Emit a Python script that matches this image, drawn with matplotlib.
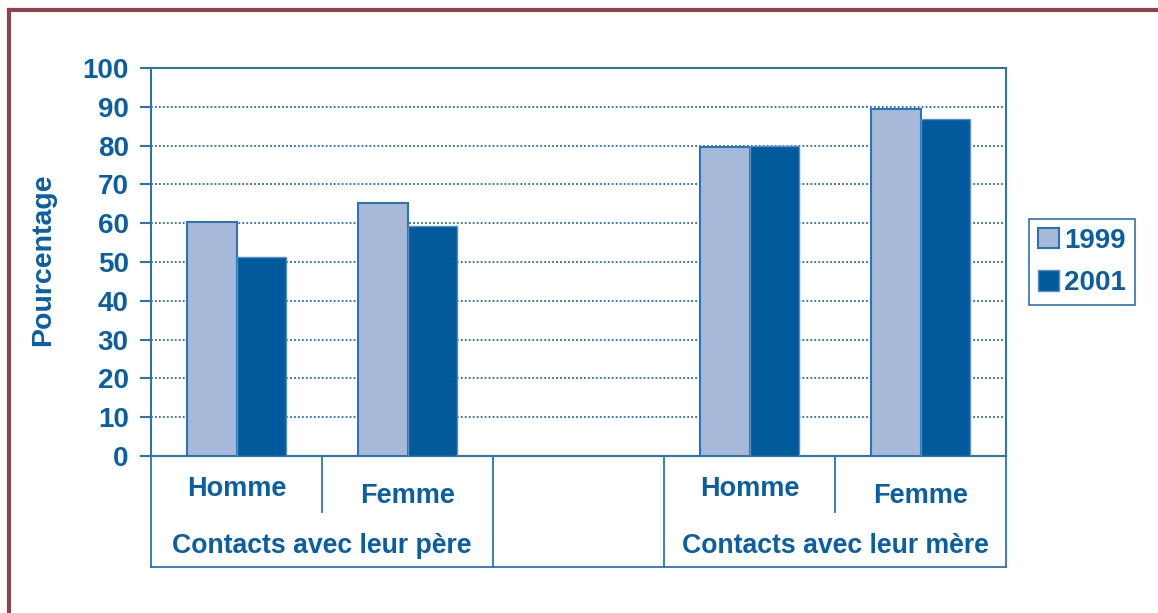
import matplotlib
matplotlib.use("Agg")
import matplotlib.pyplot as plt
from matplotlib.lines import Line2D
from matplotlib.transforms import blended_transform_factory
import numpy as np

# data
sub_labels = ["Homme", "Femme", "", "Homme", "Femme"]
group_labels = ["Contacts avec leur père", "Contacts avec leur mère"]
values_1999 = [60.4, 65.1, np.nan, 79.6, 89.4]
values_2001 = [51.4, 59.2, np.nan, 79.9, 86.9]
series_names = ["1999", "2001"]
y_ticks = list(range(0, 101, 10))

TXT = "#0b5ea1"
LIGHT = "#a7b9d8"
DARK = "#005a9c"
EDGE = "#2f72b2"
FRAME = "#8b434d"

plt.rcParams["font.family"] = ["Liberation Sans", "DejaVu Sans"]
plt.rcParams["font.weight"] = "bold"

W, H = 1158, 613
fig = plt.figure(figsize=(W / 100, H / 100), dpi=100)
ax = fig.add_axes([151 / W, (H - 456) / H, 855 / W, 388 / H])

x = np.arange(len(sub_labels))
bw = 0.292
b1 = ax.bar(x - bw / 2, values_1999, bw, color=LIGHT, edgecolor=EDGE, linewidth=1.5,
            label=series_names[0], zorder=3)
b2 = ax.bar(x + bw / 2, values_2001, bw, color=DARK, edgecolor="#5b8fc4", linewidth=1.0,
            label=series_names[1], zorder=3)

ax.set_xlim(-0.5, len(sub_labels) - 0.5)
ax.set_ylim(0, 100)
ax.set_yticks(y_ticks)
ax.set_yticklabels([str(t) for t in y_ticks])
ax.set_xticks([])
ax.tick_params(axis="y", length=8, width=1.5, color=EDGE, labelsize=20,
               labelcolor=TXT, pad=8)
for lbl in ax.get_yticklabels():
    lbl.set_fontweight("bold")

for t in y_ticks[1:-1]:
    ax.axhline(t, color="#2a6aa8", linestyle=(0, (1, 1.2)), linewidth=1.3, zorder=1)

for s in ax.spines.values():
    s.set_color(EDGE)
    s.set_linewidth(1.5)

ax.set_ylabel("Pourcentage", fontsize=20.5, fontweight="bold", color=TXT)
ax.yaxis.set_label_coords(-0.111, 0.505)

# category table below the axis
tr = blended_transform_factory(ax.transData, ax.transAxes)
y_bot = -0.286
y_mid = -0.144
lkw = dict(color=EDGE, linewidth=1.3, transform=tr, clip_on=False)
ax.add_line(Line2D([-0.5, 4.5], [y_bot, y_bot], **lkw))
for xb in [-0.5, 2.5, 1.5, 4.5]:
    ax.add_line(Line2D([xb, xb], [0, y_bot], **lkw))
for xb in [0.5, 3.5]:
    ax.add_line(Line2D([xb, xb], [0, y_mid], **lkw))

for i, lab in enumerate(sub_labels):
    if not lab:
        continue
    yy = -0.085 if lab == "Homme" else -0.103
    ax.text(i, yy, lab, transform=tr, ha="center", va="center", fontsize=19.5,
            fontweight="bold", color=TXT)
ax.text(0.5, -0.232, group_labels[0], transform=tr, ha="center", va="center",
        fontsize=19.2, fontweight="bold", color=TXT)
ax.text(3.5, -0.232, group_labels[1], transform=tr, ha="center", va="center",
        fontsize=19.2, fontweight="bold", color=TXT)

leg = fig.legend(handles=[b1, b2], labels=series_names, loc="center left",
                 bbox_to_anchor=(1029 / W, 1 - 262 / H), bbox_transform=fig.transFigure,
                 fancybox=False, framealpha=1, edgecolor=EDGE,
                 prop={"size": 20, "weight": "bold"},
                 handlelength=0.75, handleheight=0.75, handletextpad=0.2,
                 labelspacing=0.6, borderpad=0.32, borderaxespad=0)
for t in leg.get_texts():
    t.set_color(TXT)
leg.get_frame().set_linewidth(1.2)

# maroon page frame (top and left edges)
fig.add_artist(Line2D([9 / W, 1], [1 - 10 / H, 1 - 10 / H], color=FRAME,
                      linewidth=3, transform=fig.transFigure))
fig.add_artist(Line2D([9 / W, 9 / W], [0, 1 - 10 / H], color=FRAME,
                      linewidth=3, transform=fig.transFigure))

fig.savefig("out.png", dpi=100)
